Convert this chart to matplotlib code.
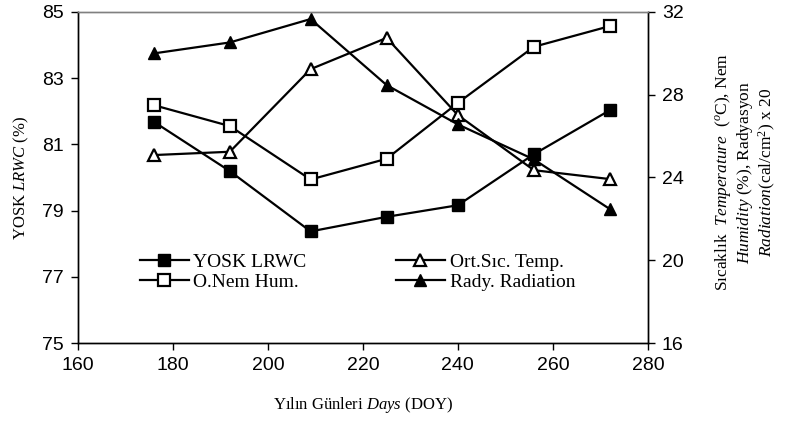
import matplotlib.pyplot as plt
from matplotlib.lines import Line2D

plt.rcParams['font.family'] = 'Liberation Sans'
plt.rcParams['mathtext.fontset'] = 'custom'
plt.rcParams['mathtext.rm'] = 'Liberation Serif'
plt.rcParams['mathtext.it'] = 'Liberation Serif:italic'

# data
days = [176, 192, 209, 225, 240, 256, 272]
yosk_lrwc = [81.68, 80.19, 78.37, 78.81, 79.16, 80.70, 82.03]
humidity = [27.49, 26.48, 23.90, 24.90, 27.60, 30.31, 31.31]
temperature = [25.08, 25.24, 29.23, 30.74, 27.01, 24.35, 23.92]
radiation = [29.99, 30.52, 31.65, 28.46, 26.56, 24.87, 22.47]

fig = plt.figure(figsize=(7.94, 4.37), dpi=100)
ax = fig.add_axes([0.098, 0.215, 0.718, 0.758])
ax2 = ax.twinx()

lw = 1.6
ms = 8.5
mt = 8
ax.plot(days, yosk_lrwc, color='black', lw=lw, marker='s', ms=ms,
        mfc='black', mec='black', zorder=3)
ax2.plot(days, humidity, color='black', lw=lw, marker='s', ms=ms,
         mfc='white', mec='black', mew=1.6, zorder=3)
ax2.plot(days, temperature, color='black', lw=lw, marker='^', ms=mt,
         mfc='white', mec='black', mew=1.6, zorder=3)
ax2.plot(days, radiation, color='black', lw=lw, marker='^', ms=mt,
         mfc='black', mec='black', zorder=3)

ax.set_xlim(160, 280)
ax.set_ylim(75, 85)
ax.set_xticks(range(160, 281, 20))
ax.set_yticks(range(75, 86, 2))
ax2.set_ylim(16, 32)
ax2.set_yticks(range(16, 33, 4))

for a in (ax, ax2):
    a.tick_params(labelsize=14, length=5, width=1, direction='out', pad=5)
    for s in a.spines.values():
        s.set_linewidth(1)
ax.spines['top'].set_color('#808080')
ax2.spines['top'].set_color('#808080')

serif = 'Liberation Serif'
ax.set_ylabel(r'YOSK $\it{LRWC}$ (%)', fontsize=12, family=serif, labelpad=8)
ax.set_xlabel(r'Yılın Günleri $\it{Days}$ (DOY)', fontsize=12, family=serif,
              labelpad=15)
fig.text(0.939, 0.606,
         'Sıcaklık  $\\it{Temperature}$  ($^{o}$C), Nem\n'
         '$\\it{Humidity}$ (%), Radyasyon\n'
         '$\\it{Radiation}$(cal/cm$^{2}$) x 20',
         rotation=90, ha='center', va='center', multialignment='center',
         fontsize=12.5, family=serif, linespacing=1.15)

handles = [
    Line2D([], [], color='black', lw=lw, marker='s', ms=ms, mfc='black'),
    Line2D([], [], color='black', lw=lw, marker='s', ms=ms, mfc='white', mew=1.6),
    Line2D([], [], color='black', lw=lw, marker='^', ms=mt, mfc='white', mew=1.6),
    Line2D([], [], color='black', lw=lw, marker='^', ms=mt, mfc='black'),
]
labels = ['YOSK LRWC', 'O.Nem Hum.', 'Ort.Sıc. Temp.', 'Rady. Radiation']
ax2.legend(handles, labels, ncol=2, frameon=False, loc='upper left',
           bbox_to_anchor=(0.109, 0.27), prop={'family': serif, 'size': 14},
           handlelength=2.5, handletextpad=0.25, columnspacing=4.6,
           labelspacing=0.12, borderaxespad=0, borderpad=0)

fig.savefig('out.png', dpi=100)
